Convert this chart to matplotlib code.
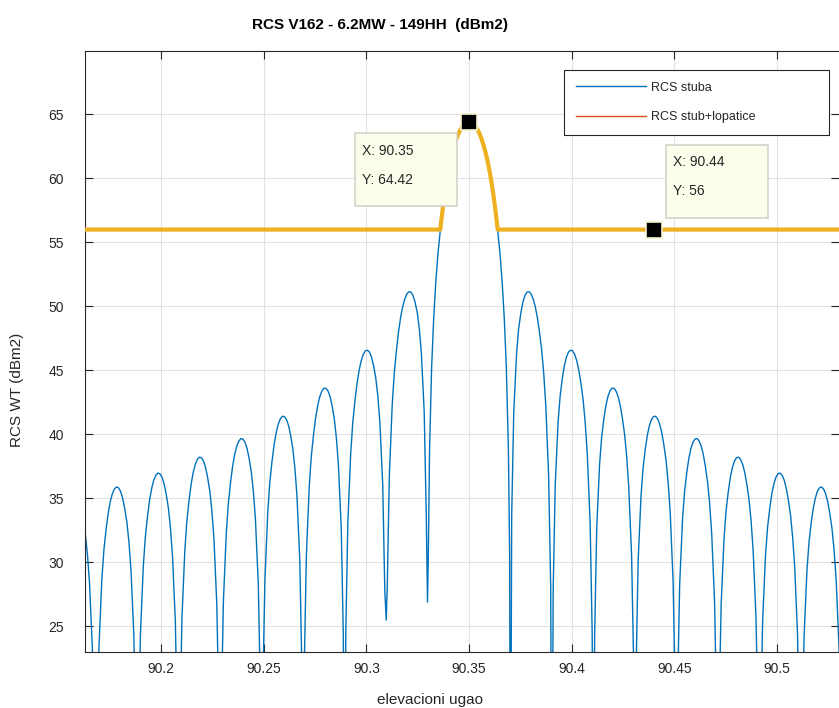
import matplotlib
matplotlib.use('Agg')
import matplotlib.pyplot as plt
from matplotlib.patches import Rectangle

plt.rcParams['font.family'] = ['Liberation Sans', 'DejaVu Sans']

W, H = 839, 708

# RCS of the tower (blue) - one row per lobe, last value of a row is the null
blue_x = [
    90.1611, 90.1621, 90.1632, 90.1642, 90.1652, 90.1666, 90.1676, 90.1682,
    90.1688, 90.1698, 90.1712, 90.1722, 90.1733, 90.1743, 90.1753, 90.1763, 90.1773, 90.1783,
    90.1793, 90.1803, 90.1813, 90.1823, 90.1834, 90.1844, 90.1854, 90.1868, 90.1878, 90.1884,
    90.1890, 90.1900, 90.1914, 90.1924, 90.1935, 90.1945, 90.1955, 90.1965, 90.1975, 90.1985,
    90.1995, 90.2005, 90.2015, 90.2025, 90.2036, 90.2046, 90.2056, 90.2070, 90.2080, 90.2086,
    90.2092, 90.2102, 90.2116, 90.2126, 90.2137, 90.2147, 90.2157, 90.2167, 90.2177, 90.2187,
    90.2197, 90.2207, 90.2217, 90.2227, 90.2238, 90.2248, 90.2258, 90.2272, 90.2282, 90.2288,
    90.2294, 90.2304, 90.2318, 90.2328, 90.2339, 90.2349, 90.2359, 90.2369, 90.2379, 90.2389,
    90.2399, 90.2409, 90.2419, 90.2429, 90.2440, 90.2450, 90.2460, 90.2474, 90.2484, 90.2490,
    90.2496, 90.2506, 90.2520, 90.2530, 90.2541, 90.2551, 90.2561, 90.2571, 90.2581, 90.2591,
    90.2601, 90.2611, 90.2621, 90.2631, 90.2642, 90.2652, 90.2662, 90.2676, 90.2686, 90.2692,
    90.2698, 90.2708, 90.2722, 90.2732, 90.2743, 90.2753, 90.2763, 90.2773, 90.2783, 90.2793,
    90.2803, 90.2813, 90.2823, 90.2833, 90.2844, 90.2854, 90.2864, 90.2878, 90.2888, 90.2894,
    90.2900, 90.2910, 90.2924, 90.2934, 90.2945, 90.2955, 90.2965, 90.2975, 90.2985, 90.2995,
    90.3005, 90.3015, 90.3025, 90.3035, 90.3046, 90.3056, 90.3066, 90.3080, 90.3090, 90.3097,
    90.3102, 90.3112, 90.3126, 90.3136, 90.3147, 90.3157, 90.3167, 90.3177, 90.3187, 90.3197,
    90.3207, 90.3217, 90.3227, 90.3237, 90.3248, 90.3258, 90.3268, 90.3282, 90.3292, 90.3298,
    90.3302, 90.3308, 90.3318, 90.3328, 90.3338, 90.3348, 90.3359, 90.3369, 90.3379, 90.3389,
    90.3399, 90.3409, 90.3419, 90.3429, 90.3439, 90.3449, 90.3460, 90.3470, 90.3480, 90.3490, 90.3500,
    90.3510, 90.3520, 90.3530, 90.3540, 90.3551, 90.3561, 90.3571, 90.3581, 90.3591, 90.3601,
    90.3611, 90.3621, 90.3631, 90.3641, 90.3652, 90.3662, 90.3672, 90.3682, 90.3692, 90.3698, 90.3702,
    90.3708, 90.3718, 90.3732, 90.3742, 90.3753, 90.3763, 90.3773, 90.3783, 90.3793, 90.3803,
    90.3813, 90.3823, 90.3833, 90.3843, 90.3854, 90.3864, 90.3874, 90.3888, 90.3898, 90.3904,
    90.3910, 90.3920, 90.3934, 90.3944, 90.3955, 90.3965, 90.3975, 90.3985, 90.3995, 90.4005,
    90.4015, 90.4025, 90.4035, 90.4045, 90.4056, 90.4066, 90.4076, 90.4090, 90.4100, 90.4106,
    90.4112, 90.4122, 90.4136, 90.4146, 90.4157, 90.4167, 90.4177, 90.4187, 90.4197, 90.4207,
    90.4217, 90.4227, 90.4237, 90.4247, 90.4258, 90.4268, 90.4278, 90.4292, 90.4302, 90.4308,
    90.4314, 90.4324, 90.4338, 90.4348, 90.4359, 90.4369, 90.4379, 90.4389, 90.4399, 90.4409,
    90.4419, 90.4429, 90.4439, 90.4449, 90.4460, 90.4470, 90.4480, 90.4494, 90.4504, 90.4510,
    90.4516, 90.4526, 90.4540, 90.4550, 90.4561, 90.4571, 90.4581, 90.4591, 90.4601, 90.4611,
    90.4621, 90.4631, 90.4641, 90.4651, 90.4662, 90.4672, 90.4682, 90.4696, 90.4706, 90.4712,
    90.4718, 90.4728, 90.4742, 90.4752, 90.4763, 90.4773, 90.4783, 90.4793, 90.4803, 90.4813,
    90.4823, 90.4833, 90.4843, 90.4853, 90.4864, 90.4874, 90.4884, 90.4898, 90.4908, 90.4914,
    90.4920, 90.4930, 90.4944, 90.4954, 90.4965, 90.4975, 90.4985, 90.4995, 90.5005, 90.5015,
    90.5025, 90.5035, 90.5045, 90.5055, 90.5066, 90.5076, 90.5086, 90.5100, 90.5110, 90.5116,
    90.5122, 90.5132, 90.5146, 90.5156, 90.5167, 90.5177, 90.5187, 90.5197, 90.5207, 90.5217,
    90.5227, 90.5237, 90.5247, 90.5257, 90.5268, 90.5278, 90.5288, 90.5302, 90.5312, 90.5318,
]
blue_y = [
    34.06, 33.27, 32.14, 30.59, 28.39, 23.23, 14.83, 5.0,
    14.89, 23.38, 28.68, 30.97, 32.63, 33.85, 34.74, 35.35, 35.73, 35.89,
    35.83, 35.56, 35.04, 34.25, 33.14, 31.59, 29.39, 24.24, 15.85, 5.0,
    15.92, 24.41, 29.72, 32.02, 33.68, 34.91, 35.80, 36.43, 36.81, 36.98,
    36.92, 36.66, 36.15, 35.37, 34.26, 32.72, 30.53, 25.39, 17.01, 5.0,
    17.08, 25.59, 30.90, 33.21, 34.88, 36.12, 37.02, 37.65, 38.04, 38.22,
    38.18, 37.92, 37.42, 36.65, 35.55, 34.01, 31.84, 26.71, 18.34, 5.0,
    18.43, 26.94, 32.27, 34.59, 36.27, 37.52, 38.44, 39.08, 39.48, 39.67,
    39.64, 39.39, 38.91, 38.15, 37.06, 35.54, 33.38, 28.27, 19.92, 5.0,
    20.02, 28.55, 33.90, 36.24, 37.93, 39.19, 40.13, 40.79, 41.21, 41.41,
    41.40, 41.17, 40.71, 39.97, 38.90, 37.40, 35.26, 30.17, 21.84, 5.0,
    21.97, 30.52, 35.91, 38.27, 39.99, 41.27, 42.23, 42.92, 43.36, 43.60,
    43.61, 43.41, 42.98, 42.27, 41.23, 39.76, 37.65, 32.62, 24.32, 5.0,
    24.49, 33.08, 38.52, 40.92, 42.68, 44.01, 45.01, 45.74, 46.24, 46.52,
    46.58, 46.44, 46.06, 45.40, 44.42, 43.01, 40.97, 36.03, 27.80, 25.5,
    28.06, 36.72, 42.27, 44.76, 46.61, 48.03, 49.13, 49.96, 50.56, 50.96,
    51.14, 51.12, 50.87, 50.36, 49.53, 48.28, 46.40, 41.72, 33.69, 26.9,
    30.6, 38.8, 45.19, 49.03, 51.80, 53.97, 55.73, 57.22, 58.48, 59.56,
    60.50, 61.31, 62.00, 62.59, 63.09, 63.51, 63.84, 64.10, 64.28, 64.38, 64.42,
    64.38, 64.28, 64.10, 63.84, 63.51, 63.09, 62.59, 62.00, 61.31, 60.50,
    59.56, 58.48, 57.22, 55.73, 53.97, 51.80, 49.03, 45.19, 38.8, 30.6, 5.0,
    33.69, 41.72, 46.40, 48.28, 49.53, 50.36, 50.87, 51.12, 51.14, 50.96,
    50.56, 49.96, 49.13, 48.03, 46.61, 44.76, 42.27, 36.72, 28.06, 5.0,
    27.80, 36.03, 40.97, 43.01, 44.42, 45.40, 46.06, 46.44, 46.58, 46.52,
    46.24, 45.74, 45.01, 44.01, 42.68, 40.92, 38.52, 33.08, 24.49, 5.0,
    24.32, 32.62, 37.65, 39.76, 41.23, 42.27, 42.98, 43.41, 43.61, 43.60,
    43.36, 42.92, 42.23, 41.27, 39.99, 38.27, 35.91, 30.52, 21.97, 5.0,
    21.84, 30.17, 35.26, 37.40, 38.90, 39.97, 40.71, 41.17, 41.40, 41.41,
    41.21, 40.79, 40.13, 39.19, 37.93, 36.24, 33.90, 28.55, 20.02, 5.0,
    19.92, 28.27, 33.38, 35.54, 37.06, 38.15, 38.91, 39.39, 39.64, 39.67,
    39.48, 39.08, 38.44, 37.52, 36.27, 34.59, 32.27, 26.94, 18.43, 5.0,
    18.34, 26.71, 31.84, 34.01, 35.55, 36.65, 37.42, 37.92, 38.18, 38.22,
    38.04, 37.65, 37.02, 36.12, 34.88, 33.21, 30.90, 25.59, 17.08, 5.0,
    17.01, 25.39, 30.53, 32.72, 34.26, 35.37, 36.15, 36.66, 36.92, 36.98,
    36.81, 36.43, 35.80, 34.91, 33.68, 32.02, 29.72, 24.41, 15.92, 5.0,
    15.85, 24.24, 29.39, 31.59, 33.14, 34.25, 35.04, 35.56, 35.83, 35.89,
    35.73, 35.35, 34.74, 33.85, 32.63, 30.97, 28.68, 23.38, 14.89, 5.0,
]

# tower + blades (thick yellow envelope)
env_x = [90.160, 90.3360, 90.3369, 90.3379, 90.3389, 90.3399, 90.3409, 90.3419, 90.3429,
         90.3439, 90.3449, 90.3460, 90.3470, 90.3480, 90.3490, 90.3500,
         90.3510, 90.3520, 90.3530, 90.3540, 90.3551, 90.3561, 90.3571, 90.3581,
         90.3591, 90.3601, 90.3611, 90.3621, 90.3631, 90.3640, 90.540]
env_y = [56, 56, 57.22, 58.48, 59.56, 60.50, 61.31, 62.00, 62.59,
         63.09, 63.51, 63.84, 64.10, 64.28, 64.38, 64.42,
         64.38, 64.28, 64.10, 63.84, 63.51, 63.09, 62.59, 62.00,
         61.31, 60.50, 59.56, 58.48, 57.22, 56, 56]

# data tips
tip_x = [90.35, 90.44]
tip_y = [64.42, 56]

x_ticks = [90.2, 90.25, 90.3, 90.35, 90.4, 90.45, 90.5]
x_labels = ['90.2', '90.25', '90.3', '90.35', '90.4', '90.45', '90.5']
y_ticks = [25, 30, 35, 40, 45, 50, 55, 60, 65]

DARK = '#262626'


def fx(px):
    return px / W


def fy(py):
    return 1 - py / H


fig = plt.figure(figsize=(W / 100, H / 100), dpi=100)
ax = fig.add_axes([fx(85), fy(652), fx(839) - fx(85), fy(51) - fy(652)])

l1, = ax.plot(blue_x, blue_y, color='#0072BD', lw=1.0, label='RCS stuba', zorder=2)
l2, = ax.plot(env_x, env_y, color='#D95319', lw=1.0, label='RCS stub+lopatice', zorder=2)
ax.plot(env_x, env_y, color='#EDB120', lw=3.0, zorder=3)
ax.plot(tip_x, tip_y, ls='none', marker='s', markersize=11, markerfacecolor='black',
        markeredgecolor='#f7f2cf', markeredgewidth=1.2, zorder=5)

ax.set_xlim(90.163, 90.5302)
ax.set_ylim(23, 69.95)
ax.set_xticks(x_ticks)
ax.set_xticklabels(x_labels)
ax.set_yticks(y_ticks)
ax.set_yticklabels([str(v) for v in y_ticks])
ax.grid(True, color='#e2e2e2', linewidth=0.8)
ax.set_axisbelow(True)
ax.tick_params(direction='in', length=5.8, width=0.8, color=DARK, labelcolor=DARK,
               labelsize=10, top=True, right=True)
ax.tick_params(axis='y', pad=15)
ax.tick_params(axis='x', pad=7)
for s in ['left', 'bottom', 'top']:
    ax.spines[s].set_color(DARK)
    ax.spines[s].set_linewidth(0.8)
ax.spines['right'].set_visible(False)

leg = ax.legend(handles=[l1, l2], loc='upper left', mode='expand',
                bbox_to_anchor=(fx(563.7), fy(134.3), fx(829.3) - fx(563.7), fy(69.7) - fy(134.3)),
                bbox_transform=fig.transFigure, borderaxespad=0, fontsize=9,
                handlelength=5.6, handletextpad=0.45, borderpad=0.95, labelspacing=1.39,
                fancybox=False, framealpha=1, edgecolor=DARK)
leg.get_frame().set_linewidth(0.8)
for t in leg.get_texts():
    t.set_color(DARK)

# data tip boxes
boxes = [(354.7, 133.3, 457.3, 206.0), (665.7, 145.0, 768.3, 217.7)]
text_pos = [(362.3, 155.0, 184.0), (672.7, 165.7, 195.0)]
for (x0, y0, x1, y1), (tx, ty1, ty2), vx, vy in zip(boxes, text_pos, tip_x, tip_y):
    fig.patches.append(Rectangle((fx(x0), fy(y1)), fx(x1) - fx(x0), fy(y0) - fy(y1),
                                 transform=fig.transFigure, facecolor='#fdfdeb',
                                 edgecolor='#d4d4cc', linewidth=1.2, zorder=4))
    fig.text(fx(tx), fy(ty1), f'X: {vx:g}', fontsize=10, color=DARK, va='baseline', zorder=6)
    fig.text(fx(tx), fy(ty2), f'Y: {vy:g}', fontsize=10, color=DARK, va='baseline', zorder=6)

fig.text(fx(379.5), fy(29.3), 'RCS V162 - 6.2MW - 149HH  (dBm2)', fontsize=11,
         fontweight='bold', ha='center', va='baseline')
fig.text(fx(430), fy(704), 'elevacioni ugao', fontsize=11, color=DARK,
         ha='center', va='baseline')
fig.text(fx(17.5), fy(390), 'RCS WT (dBm2)', fontsize=11, color=DARK,
         rotation=90, ha='center', va='center')

fig.savefig('out.png', dpi=100)
